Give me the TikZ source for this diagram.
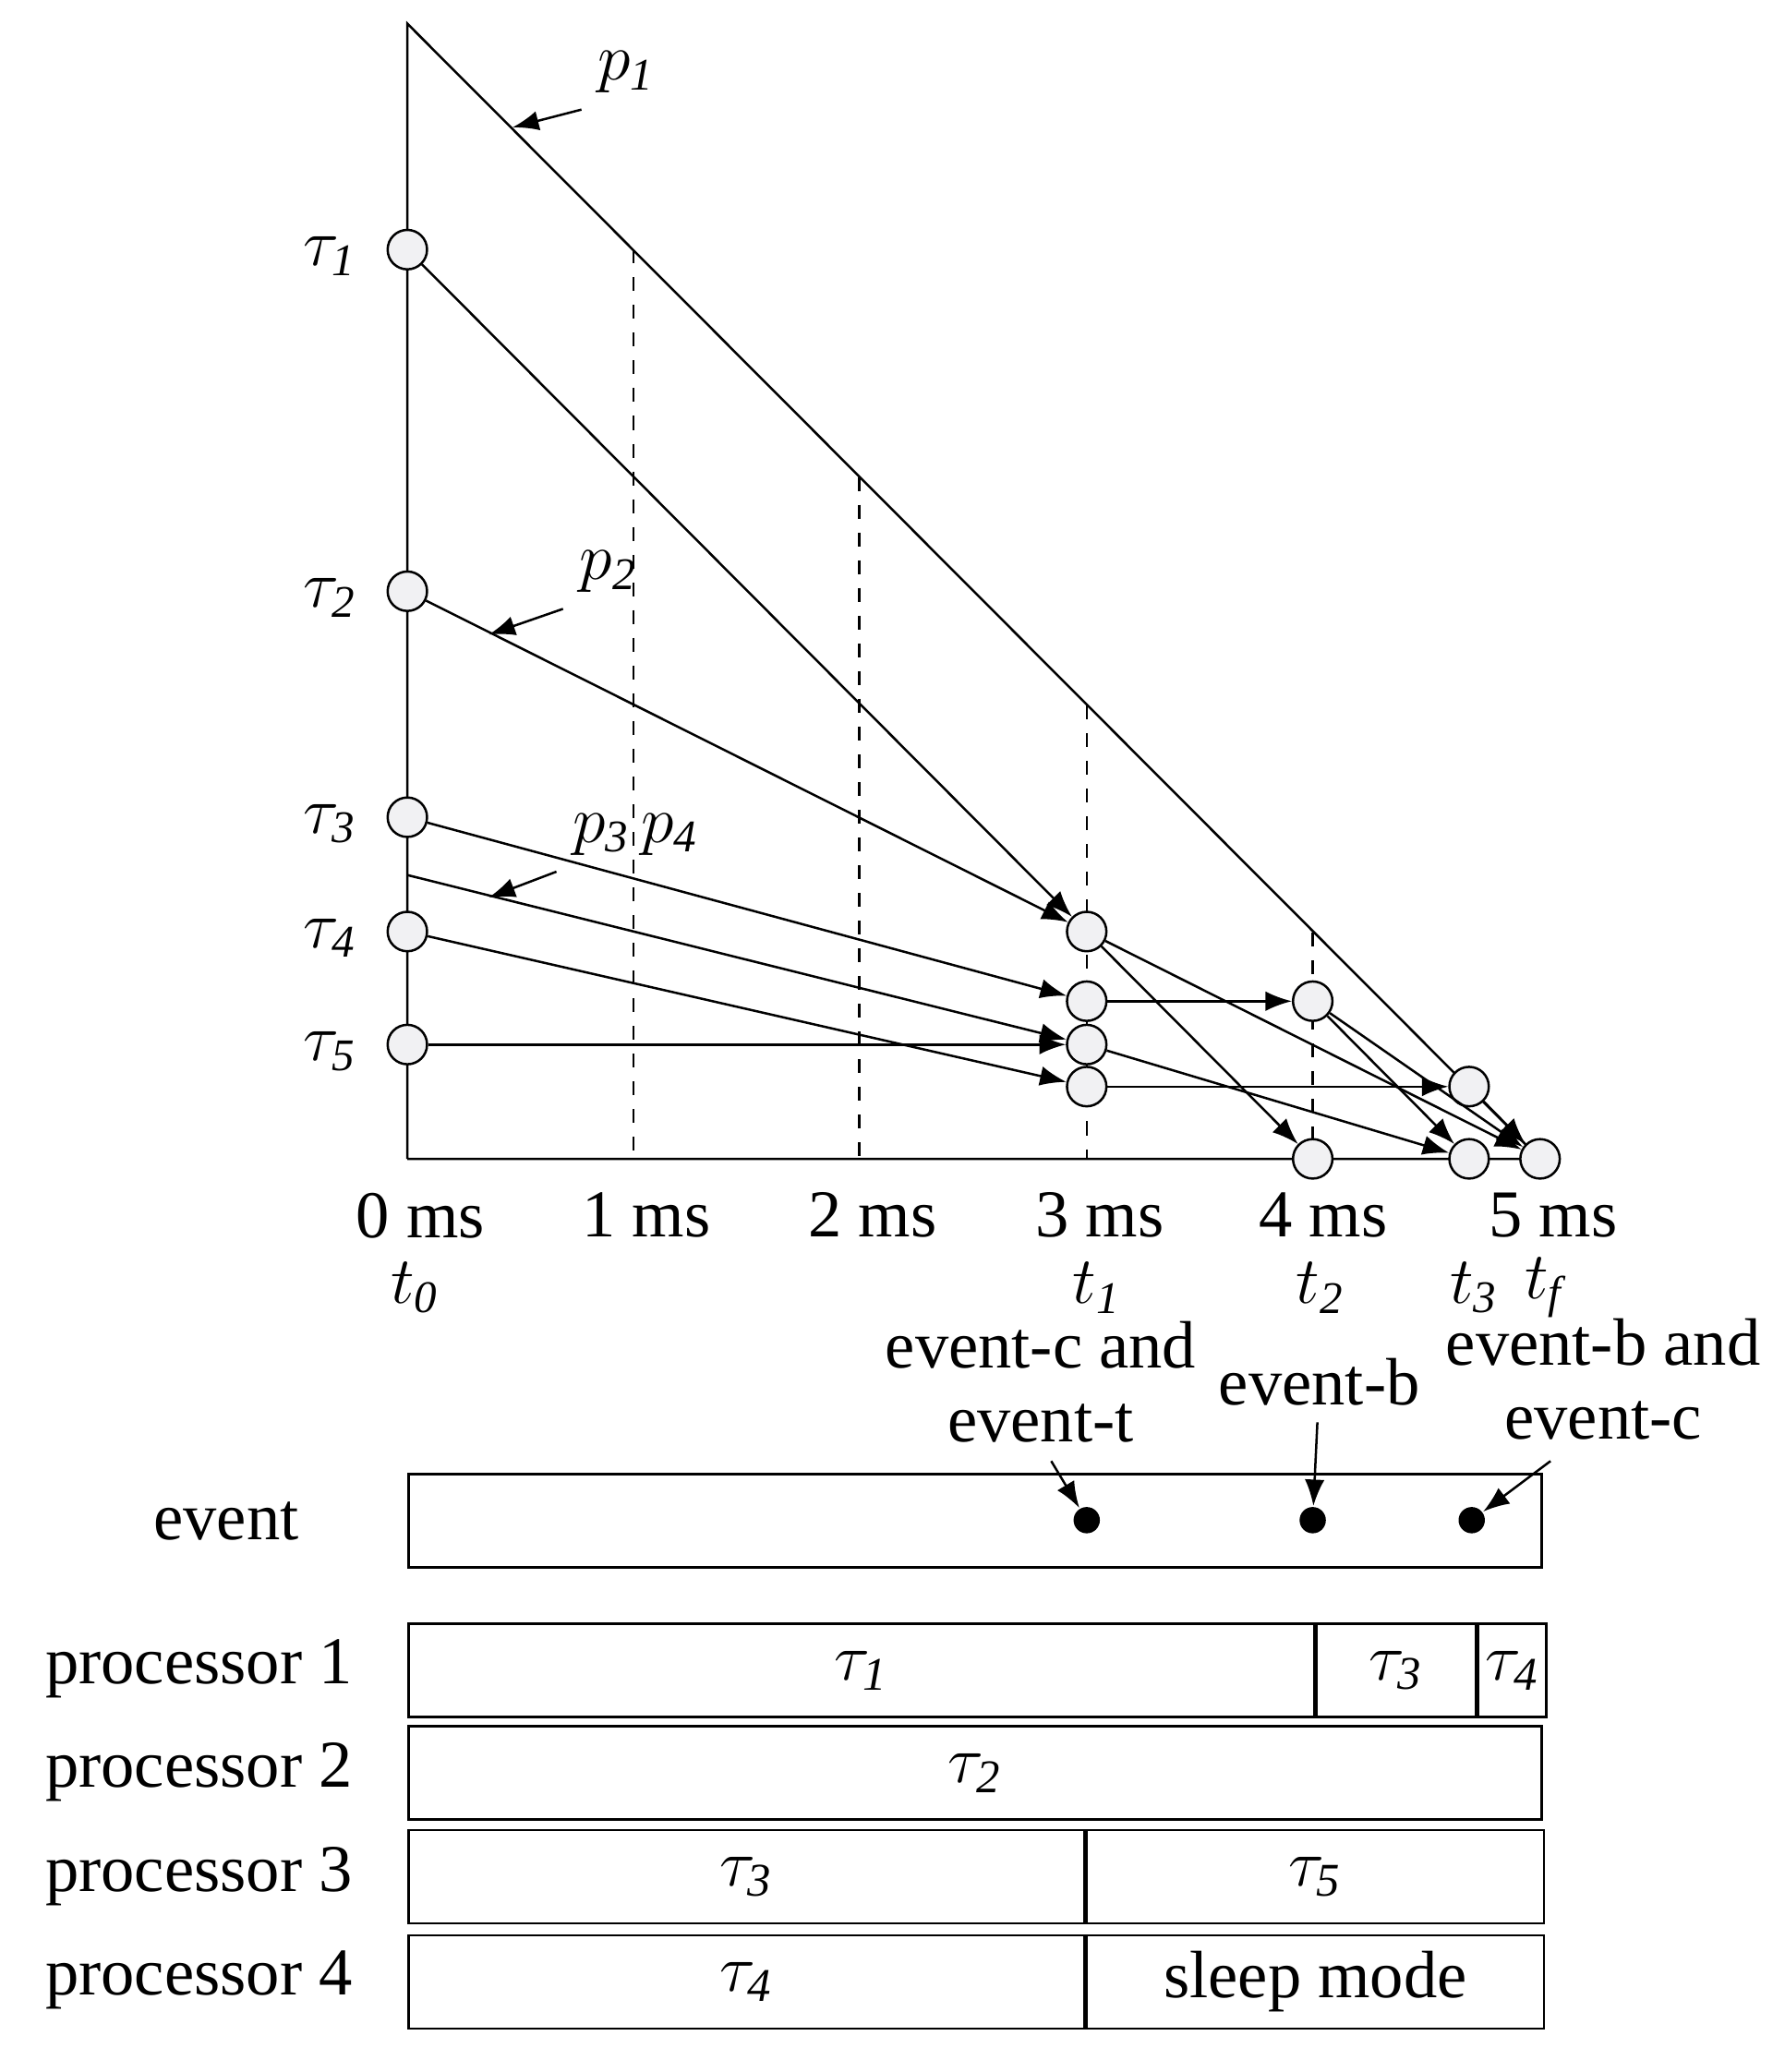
\documentclass[tikz,border=0pt]{standalone}
\usepackage{fontspec}
\setmainfont{Liberation Serif}
\usetikzlibrary{arrows.meta,positioning}
\newcommand{\tsub}[1]{$\tau_{\mathit{#1}}$}
\begin{document}
\begin{tikzpicture}[x=0.01cm,y=-0.01cm,line width=0.5pt,
  task/.style={circle,draw,fill=blue!8!gray!10,minimum size=0.3cm,inner sep=0pt},
  arr/.style={-{Latex[length=0.2cm,width=0.15cm]}},
  lbl/.style={font=\fontsize{14.5}{16}\selectfont},
  tlbl/.style={font=\fontsize{14}{15}\selectfont\itshape},
  bar/.style={draw,minimum height=0.71cm,inner sep=0pt,anchor=north west,font=\fontsize{14.5}{16}\selectfont}]
\useasboundingbox (0,0) rectangle (1358,1577);
% axes and deadline line
\draw (310,882) -- (310,18) -- (1172,882) -- (310,882);
\foreach \x/\y in {482/190,654/363,827/537,999/710}
  \draw[dashed] (\x,\y) -- (\x,882);
% tasks on the axis
\node[task] (t1) at (310,190) {};
\node[task] (t2) at (310,450) {};
\node[task] (t3) at (310,622) {};
\node[task] (t4) at (310,709) {};
\node[task] (t5) at (310,795) {};
\coordinate (s34) at (310,666);
\foreach \i/\y in {1/190,2/450,3/622,4/709,5/795}
  \node[tlbl,left=0.1cm of t\i,yshift=-0.05cm] {$\tau_{\mathit{\i}}$};
% intermediate and final points
\node[task] (a) at (827,709) {};
\node[task] (b) at (827,762) {};
\node[task] (c) at (827,795) {};
\node[task] (d) at (827,827) {};
\node[task] (e) at (999,762) {};
\node[task] (f) at (999,882) {};
\node[task] (g) at (1118,827) {};
\node[task] (h) at (1118,882) {};
\node[task] (k) at (1172,882) {};
\draw[arr] (t1) -- (a);
\draw[arr] (t2) -- (a);
\draw[arr] (t3) -- (b);
\draw[arr] (s34) -- (c);
\draw[arr] (t5) -- (c);
\draw[arr] (t4) -- (d);
\draw[arr] (a) -- (f);
\draw[arr] (a) -- (k);
\draw[arr] (b) -- (e);
\draw[arr] (e) -- (h);
\draw[arr] (e) -- (k);
\draw[arr] (c) -- (h);
\draw[arr] (d) -- (g);
\draw[arr] (g) -- (k);
% path labels
\node[tlbl] (p1) at (477,55) {$p_{\mathit 1}$};
\node[tlbl] (p2) at (463,435) {$p_{\mathit 2}$};
\node[tlbl] (p3) at (458,635) {$p_{\mathit 3}$};
\node[tlbl] (p4) at (510,635) {$p_{\mathit 4}$};
\coordinate (q1) at (390,97);
\coordinate (q2) at (372,483);
\coordinate (q3) at (372,683);
\draw[arr] (p1.south west) -- (q1);
\draw[arr] (p2.south west) -- (q2);
\draw[arr] (p3.south west) -- (q3);
% time axis labels
\foreach \x/\n in {320/0,492/1,664/2,837/3,1007/4,1182/5}
  \node[lbl] at (\x,925) {\n\ ms};
\foreach \x/\n in {316/0,835/1,1005/2,1122/3,1175/f}
  \node[tlbl] at (\x,980) {$t_{\mathit{\n}}$};
% events
\node[lbl,align=center] (ect) at (792,1052) {event-c and\\event-t};
\node[lbl] (eb) at (1004,1052) {event-b};
\node[lbl,align=center] (ebc) at (1220,1050) {event-b and\\event-c};
\node[draw,minimum width=8.62cm,minimum height=0.71cm,anchor=north west] (ev) at (310,1121) {};
\node[lbl,left=0.7cm of ev] {event};
\node[circle,fill,inner sep=0pt,minimum size=0.2cm] (e1) at (827,1157) {};
\node[circle,fill,inner sep=0pt,minimum size=0.2cm] (e2) at (999,1157) {};
\node[circle,fill,inner sep=0pt,minimum size=0.2cm] (e3) at (1120,1157) {};
\coordinate (c1) at (800,1112);
\coordinate (c3) at (1180,1112);
\draw[arr] (c1) -- (e1);
\draw[arr] (eb) -- (e2);
\draw[arr] (c3) -- (e3);
% processors
\node[bar,minimum width=6.89cm] (p1a) at (310,1235) {\tsub1};
\node[bar,minimum width=1.21cm,right=0pt of p1a] (p1b) {\tsub3};
\node[bar,minimum width=0.52cm,right=0pt of p1b] (p1c) {\tsub4};
\node[bar,minimum width=8.62cm] (p2a) at (310,1313) {\tsub2};
\node[bar,minimum width=5.14cm] (p3a) at (310,1392) {\tsub3};
\node[bar,minimum width=3.48cm,right=0pt of p3a] (p3b) {\tsub5};
\node[bar,minimum width=5.14cm] (p4a) at (310,1472) {\tsub4};
\node[bar,minimum width=3.48cm,right=0pt of p4a] (p4b) {sleep mode};
\foreach \i in {1,2,3,4}
  \node[lbl,anchor=west] at (22,{1270+(\i-1)*79}) {processor \i};
\end{tikzpicture}
\end{document}
